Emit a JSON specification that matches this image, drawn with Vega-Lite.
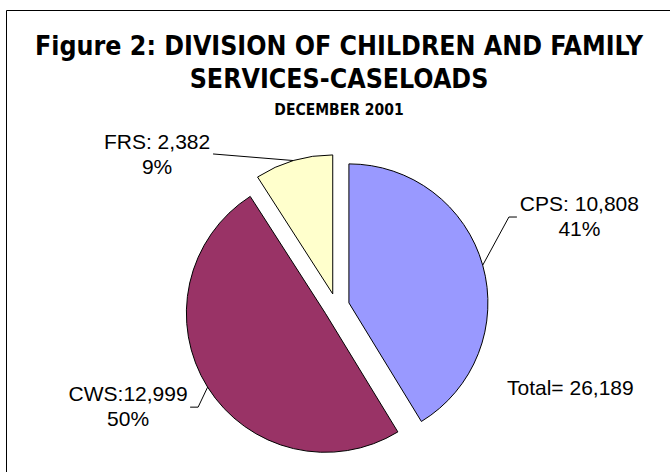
{
  "$schema": "https://vega.github.io/schema/vega-lite/v6.json",
  "width": 666,
  "height": 464,
  "autosize": "none",
  "padding": {"left": 6, "top": 10, "right": -2, "bottom": -2},
  "background": "white",
  "config": {"view": {"stroke": "#000", "strokeWidth": 1}, "font": "Liberation Sans"},
  "params": [
    {"name": "cx", "value": 330.4},
    {"name": "cy", "value": 296.4},
    {"name": "ex", "value": 13},
    {"name": "rr", "value": 152}
  ],
  "title": {
    "text": ["Figure 2:  DIVISION OF CHILDREN AND FAMILY", "SERVICES-CASELOADS"],
    "subtitle": "DECEMBER 2001",
    "font": "Liberation Sans Narrow, Arial Narrow, DejaVu Sans Condensed, DejaVu Sans",
    "fontSize": 26.5,
    "fontWeight": "bold",
    "lineHeight": 33,
    "color": "#000",
    "subtitleFont": "Liberation Sans Narrow, Arial Narrow, DejaVu Sans Condensed, DejaVu Sans",
    "subtitleFontSize": 15.5,
    "subtitleFontWeight": "bold",
    "subtitleColor": "#000",
    "subtitlePadding": 9,
    "anchor": "middle",
    "offset": -108
  },
  "data": {
    "values": [
      {"cat": "CPS", "value": 10808, "label": "CPS: 10,808\n41%"},
      {"cat": "CWS", "value": 12999, "label": "CWS:12,999\n50%"},
      {"cat": "FRS", "value": 2382, "label": "FRS: 2,382\n9%"}
    ]
  },
  "layer": [
    {
      "mark": {
        "type": "arc",
        "outerRadius": 139,
        "stroke": "#000",
        "strokeWidth": 1,
        "x": {"expr": "cx + ex*sin(scale('theta', (datum.value_start + datum.value_end)/2))"},
        "y": {"expr": "cy - ex*cos(scale('theta', (datum.value_start + datum.value_end)/2))"}
      },
      "encoding": {
        "theta": {"field": "value", "type": "quantitative", "stack": true},
        "order": {"field": "cat", "sort": "ascending"},
        "color": {
          "field": "cat",
          "type": "nominal",
          "scale": {"domain": ["CPS", "CWS", "FRS"], "range": ["#9999FF", "#993366", "#FFFFCC"]},
          "legend": null
        }
      }
    },
    {
      "mark": {
        "type": "text",
        "radius": 152,
        "x": {"expr": "cx"},
        "y": {"expr": "cy"},
        "align": "center",
        "baseline": "top",
        "fontSize": 21,
        "lineHeight": 25,
        "lineBreak": "\n",
        "color": "#000",
        "dx": {"expr": "datum.cat == 'CPS' ? 96.7 : datum.cat == 'CWS' ? -79.5 : -136.5"},
        "dy": {"expr": "datum.cat == 'CPS' ? -71.2 : datum.cat == 'CWS' ? -3 : -28.6"}
      },
      "encoding": {
        "theta": {"field": "value", "type": "quantitative", "stack": true},
        "order": {"field": "cat", "sort": "ascending"},
        "text": {"field": "label", "type": "nominal"}
      }
    },
    {
      "transform": [
        {"joinaggregate": [{"op": "sum", "field": "value", "as": "total"}]},
        {"window": [{"op": "sum", "field": "value", "as": "cum"}], "sort": [{"field": "cat", "order": "ascending"}], "frame": [null, 0]}
      ],
      "mark": {"type": "rule", "color": "#000", "strokeWidth": 1},
      "encoding": {
        "x": {"value": {"expr": "cx + rr*sin(2*PI*(datum.cum - datum.value/2)/datum.total)"}},
        "y": {"value": {"expr": "cy - rr*cos(2*PI*(datum.cum - datum.value/2)/datum.total)"}},
        "x2": {"value": {"expr": "cx + rr*sin(2*PI*(datum.cum - datum.value/2)/datum.total) + (datum.cat == 'CPS' ? 26.2 : datum.cat == 'CWS' ? -9.5 : -80.5)"}},
        "y2": {"value": {"expr": "cy - rr*cos(2*PI*(datum.cum - datum.value/2)/datum.total) + (datum.cat == 'CPS' ? -48.2 : datum.cat == 'CWS' ? 20 : -6.6)"}}
      }
    },
    {
      "transform": [
        {"joinaggregate": [{"op": "sum", "field": "value", "as": "total"}]},
        {"window": [{"op": "sum", "field": "value", "as": "cum"}], "sort": [{"field": "cat", "order": "ascending"}], "frame": [null, 0]},
        {"filter": "datum.cat != 'FRS'"}
      ],
      "mark": {"type": "rule", "color": "#000", "strokeWidth": 1},
      "encoding": {
        "x": {"value": {"expr": "cx + rr*sin(2*PI*(datum.cum - datum.value/2)/datum.total) + (datum.cat == 'CPS' ? 26.2 : -9.5)"}},
        "y": {"value": {"expr": "cy - rr*cos(2*PI*(datum.cum - datum.value/2)/datum.total) + (datum.cat == 'CPS' ? -48.2 : 20)"}},
        "x2": {"value": {"expr": "cx + rr*sin(2*PI*(datum.cum - datum.value/2)/datum.total) + (datum.cat == 'CPS' ? 34.2 : -17.5)"}},
        "y2": {"value": {"expr": "cy - rr*cos(2*PI*(datum.cum - datum.value/2)/datum.total) + (datum.cat == 'CPS' ? -48.2 : 20)"}}
      }
    },
    {
      "transform": [{"aggregate": [{"op": "sum", "field": "value", "as": "total"}]}],
      "mark": {
        "type": "text",
        "x": 501,
        "y": 385,
        "align": "left",
        "baseline": "alphabetic",
        "fontSize": 21,
        "color": "#000",
        "text": {"expr": "'Total= ' + format(datum.total, ',')"}
      }
    }
  ]
}
